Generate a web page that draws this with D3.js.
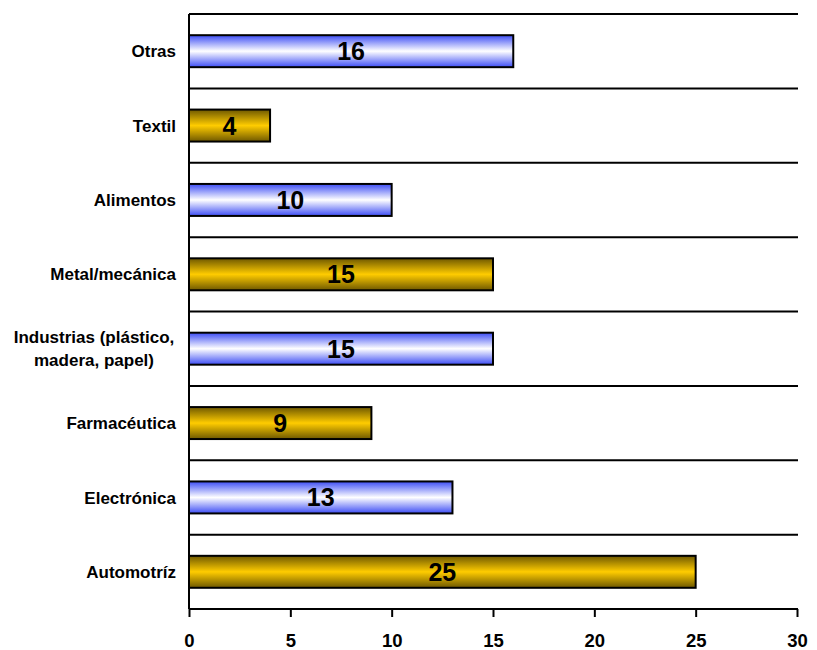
<!DOCTYPE html>
<html>
<head>
<meta charset="utf-8">
<script src="https://cdn.jsdelivr.net/npm/d3@7"></script>
<style>
  body { margin: 0; background: #fff; }
  svg { font-family: "Liberation Sans", Arial, sans-serif; }
</style>
</head>
<body>
<svg id="chart" width="817" height="650"></svg>
<script>
// data, top to bottom
const categories = ["Otras", "Textil", "Alimentos", "Metal/mecánica",
  "Industrias (plástico,|madera, papel)", "Farmacéutica", "Electrónica", "Automotríz"];
const values = [16, 4, 10, 15, 15, 9, 13, 25];
const xTicks = [0, 5, 10, 15, 20, 25, 30];

const margin = { top: 14, left: 189, right: 20, bottom: 41 };
const width = 817, height = 650;

const svg = d3.select("#chart");
const defs = svg.append("defs");

function gradient(id, edge, mid) {
  const g = defs.append("linearGradient").attr("id", id)
    .attr("x1", 0).attr("y1", 0).attr("x2", 0).attr("y2", 1);
  g.append("stop").attr("offset", "0%").attr("stop-color", edge);
  g.append("stop").attr("offset", "50%").attr("stop-color", mid);
  g.append("stop").attr("offset", "100%").attr("stop-color", edge);
}
gradient("blueGrad", "#3d4df5", "#ffffff");
gradient("goldGrad", "#6e5800", "#ffcc00");

const x = d3.scaleLinear().domain([0, 30]).range([margin.left, 797]);
const y = d3.scaleBand().domain(categories)
  .range([margin.top, height - margin.bottom]).paddingInner(0.57).paddingOuter(0.285);

// gridlines at category boundaries
const step = y.step();
const bounds = d3.range(categories.length).map(i => margin.top + i * step);
svg.append("g").selectAll("line").data(bounds).join("line")
  .attr("x1", margin.left).attr("x2", 798)
  .attr("y1", d => d).attr("y2", d => d)
  .attr("stroke", "#000").attr("stroke-width", 2);

// bars
svg.append("g").selectAll("rect").data(categories).join("rect")
  .attr("x", x(0))
  .attr("y", d => y(d))
  .attr("width", (d, i) => x(values[i]) - x(0))
  .attr("height", y.bandwidth())
  .attr("fill", (d, i) => i % 2 === 0 ? "url(#blueGrad)" : "url(#goldGrad)")
  .attr("stroke", "#000").attr("stroke-width", 2);

// value labels
svg.append("g").selectAll("text").data(categories).join("text")
  .attr("x", (d, i) => (x(0) + x(values[i])) / 2)
  .attr("y", d => y(d) + y.bandwidth() / 2)
  .attr("dy", "0.36em")
  .attr("text-anchor", "middle")
  .style("font-size", "25px").style("font-weight", "bold")
  .text((d, i) => values[i]);

// category labels
const labels = svg.append("g").selectAll("text").data(categories).join("text")
  .attr("text-anchor", "middle")
  .style("font-size", "17px").style("font-weight", "bold");
labels.each(function(d) {
  const parts = d.split("|");
  const t = d3.select(this);
  const cy = y(d) + y.bandwidth() / 2;
  const cx = parts.length > 1 ? 94 : null;
  parts.forEach((p, k) => {
    t.append("tspan")
      .attr("x", cx !== null ? cx : 176)
      .attr("y", cy + (k - (parts.length - 1) / 2) * 23)
      .attr("dy", "0.36em")
      .text(p);
  });
  if (parts.length === 1) t.attr("text-anchor", "end");
});

// y axis line
svg.append("line")
  .attr("x1", margin.left).attr("x2", margin.left)
  .attr("y1", margin.top).attr("y2", height - margin.bottom)
  .attr("stroke", "#000").attr("stroke-width", 2);

// x axis
const xAxis = svg.append("g")
  .attr("transform", `translate(0,${height - margin.bottom})`)
  .call(d3.axisBottom(x).tickValues(xTicks).tickSize(8).tickSizeOuter(0).tickPadding(17));
xAxis.select(".domain").attr("stroke-width", 2).attr("d", `M${margin.left},0H798`);
xAxis.selectAll(".tick line").attr("stroke-width", 2);
xAxis.selectAll("text")
  .style("font-family", "'Liberation Sans', Arial, sans-serif")
  .style("font-size", "18.5px").style("font-weight", "bold").attr("fill", "#000");
</script>
</body>
</html>
